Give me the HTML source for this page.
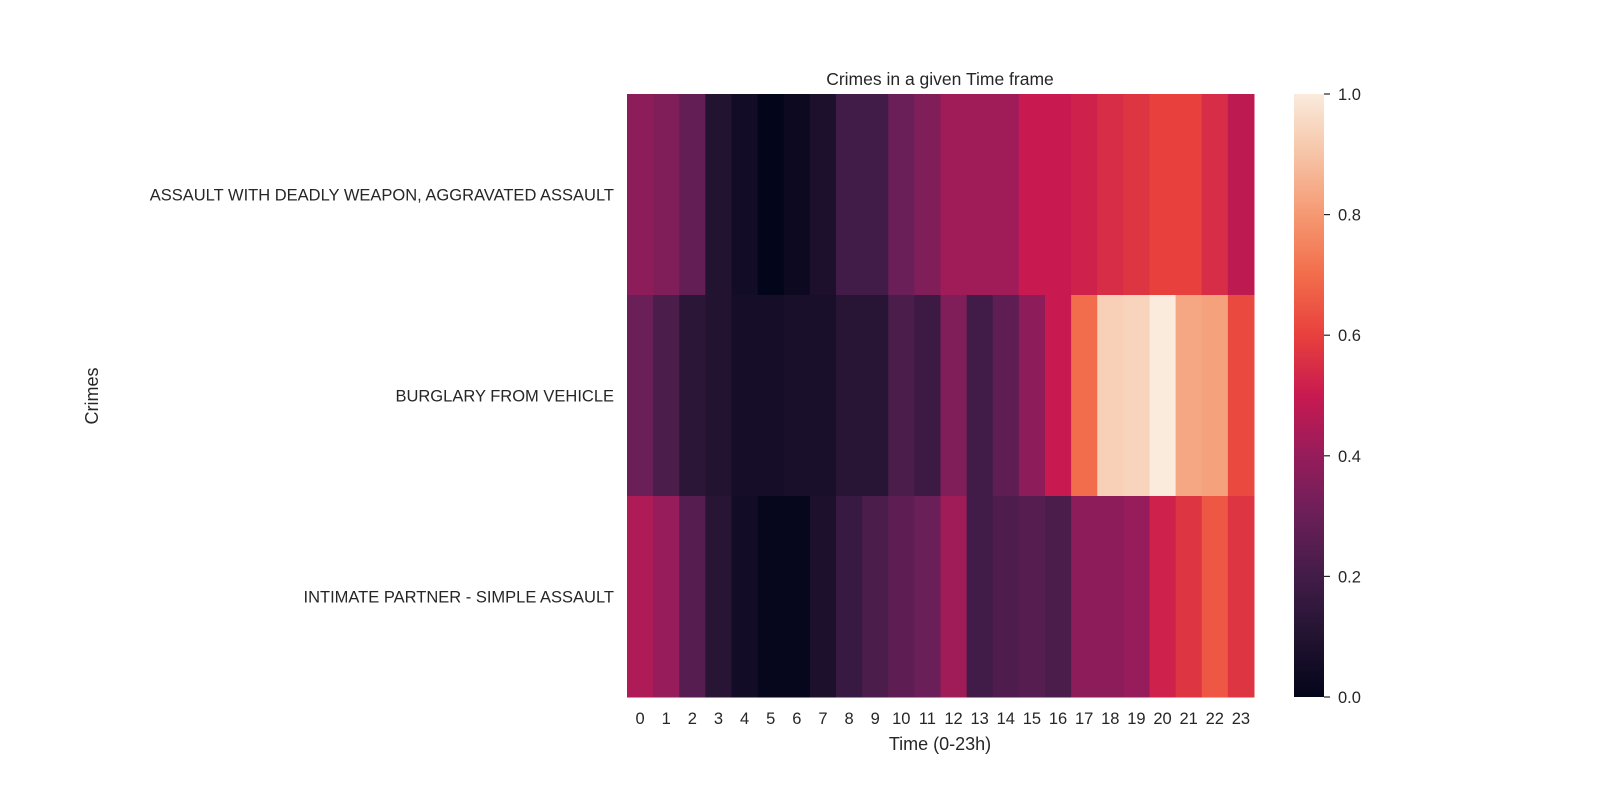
<!DOCTYPE html>
<html><head><meta charset="utf-8"><style>
html,body{margin:0;padding:0;background:#fff;}
svg{display:block;font-family:"Liberation Sans","DejaVu Sans",sans-serif;fill:#262626;}
</style></head><body>
<svg id="chart" width="1600" height="800" xmlns="http://www.w3.org/2000/svg">
<defs>
<linearGradient id="cbgrad" x1="0" y1="1" x2="0" y2="0"></linearGradient>
</defs>
<text x="940" y="85" font-size="17.5" text-anchor="middle">Crimes in a given Time frame</text>
<g id="cells"></g>
<g id="xticks"></g>
<g id="yticks"></g>
<text x="940" y="750" font-size="18" text-anchor="middle">Time (0-23h)</text>
<text x="98" y="396" font-size="18" text-anchor="middle" transform="rotate(-90 98 396)">Crimes</text>
<rect x="1294" y="94" width="30" height="603" fill="url(#cbgrad)"></rect>
<g id="cbticks"></g>
</svg>
<script>
const categories = ["ASSAULT WITH DEADLY WEAPON, AGGRAVATED ASSAULT","BURGLARY FROM VEHICLE","INTIMATE PARTNER - SIMPLE ASSAULT"];
const hours = [0,1,2,3,4,5,6,7,8,9,10,11,12,13,14,15,16,17,18,19,20,21,22,23];
const assaultValues = [0.38,0.35,0.28,0.10,0.05,0.00,0.03,0.08,0.20,0.20,0.30,0.35,0.42,0.42,0.42,0.50,0.50,0.52,0.55,0.57,0.60,0.60,0.55,0.48];
const burglaryValues = [0.30,0.22,0.13,0.10,0.06,0.06,0.07,0.07,0.12,0.12,0.22,0.18,0.35,0.20,0.27,0.38,0.50,0.70,0.93,0.94,1.00,0.83,0.82,0.62];
const partnerValues = [0.45,0.40,0.25,0.12,0.05,0.01,0.01,0.08,0.17,0.22,0.27,0.30,0.42,0.20,0.23,0.25,0.22,0.38,0.38,0.40,0.52,0.57,0.65,0.57];
const cbTicks = [0.0,0.2,0.4,0.6,0.8,1.0];
const series = [assaultValues, burglaryValues, partnerValues];

const stops = [[0,[3,5,26]],[0.1,[34,19,49]],[0.2,[66,28,72]],[0.3,[106,31,88]],[0.4,[150,28,91]],[0.5,[200,26,80]],[0.6,[232,64,61]],[0.7,[242,109,75]],[0.8,[245,153,114]],[0.9,[246,196,166]],[1.0,[250,235,221]]];
function rocket(v){v=Math.max(0,Math.min(1,v));for(let i=1;i<stops.length;i++){if(v<=stops[i][0]){const a=stops[i-1],b=stops[i];const t=(v-a[0])/(b[0]-a[0]);const c=a[1].map((x,k)=>Math.round(x+(b[1][k]-x)*t));return `rgb(${c.join(',')})`;}}return 'rgb(250,235,221)';}
const X0=627,X1=1254,Y0=94,Y1=697;
const cw=(X1-X0)/hours.length, rh=(Y1-Y0)/categories.length;
const xPos=i=>X0+i*cw, yPos=j=>Y0+j*rh;
const NS="http://www.w3.org/2000/svg";
const cells=document.getElementById('cells');
series.forEach((row,j)=>row.forEach((v,i)=>{
  const r=document.createElementNS(NS,'rect');
  r.setAttribute('x',xPos(i));r.setAttribute('y',yPos(j));
  r.setAttribute('width',cw+0.5);r.setAttribute('height',rh+0.5);
  r.setAttribute('fill',rocket(v));
  
  
  cells.appendChild(r);
}));
const xt=document.getElementById('xticks');
hours.forEach((h,i)=>{
  const t=document.createElementNS(NS,'text');
  t.setAttribute('x',xPos(i)+cw/2);t.setAttribute('y',724);
  t.setAttribute('font-size','16.5');t.setAttribute('text-anchor','middle');
  t.textContent=h;
  
  
  xt.appendChild(t);
});
const yt=document.getElementById('yticks');
categories.forEach((c,j)=>{
  const t=document.createElementNS(NS,'text');
  t.setAttribute('x',614);t.setAttribute('y',yPos(j)+rh/2+6);
  t.setAttribute('font-size','16.5');t.setAttribute('text-anchor','end');
  t.textContent=c;
  
  
  yt.appendChild(t);
});
const g=document.getElementById('cbgrad');
for(let k=0;k<=20;k++){const s=document.createElementNS(NS,'stop');s.setAttribute('offset',k/20);s.setAttribute('stop-color',rocket(k/20));g.appendChild(s);}
const cb=document.getElementById('cbticks');
cbTicks.forEach(v=>{
  const y=Y1-v*(Y1-Y0);
  const l=document.createElementNS(NS,'line');
  l.setAttribute('x1',1324);l.setAttribute('x2',1330);l.setAttribute('y1',y);l.setAttribute('y2',y);
  l.setAttribute('stroke','#262626');l.setAttribute('stroke-width','1.2');
  
  
  cb.appendChild(l);
  const t=document.createElementNS(NS,'text');
  t.setAttribute('x',1338);t.setAttribute('y',y+6);t.setAttribute('font-size','16.5');
  t.textContent=v.toFixed(1);
  
  
  cb.appendChild(t);
});
</script>
</body></html>
